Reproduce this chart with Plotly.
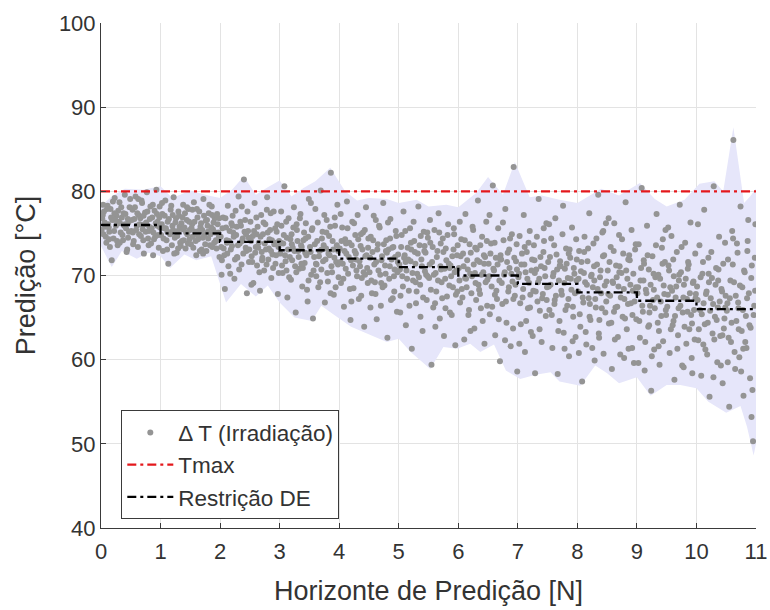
import plotly.graph_objects as go

# ---- data ----
horizon_steps = [0, 1, 2, 3, 4, 5, 6, 7, 8, 9, 10, 11]
restricao_de = [76, 75, 74, 73, 72, 71, 70, 69, 68, 67, 66, 66]
tmax_x = [0, 11]
tmax_y = [80, 80]

env_upper = [(0,78.3),(0.2,79.5),(0.4,80.3),(0.7,80.2),(1.0,80.6),(1.2,79.2),(1.5,80.1),(1.8,79.5),(2.0,79.2),(2.2,80.2),(2.4,81.8),(2.6,79.6),(2.8,80.5),(3.0,81.3),(3.2,79.4),(3.4,80.4),(3.6,81.2),(3.85,82.8),(4.1,80.0),(4.3,78.9),(4.5,79.2),(4.8,79.1),(5.0,78.6),(5.3,79.0),(5.5,78.2),(5.8,78.4),(6.0,78.1),(6.3,79.8),(6.5,81.7),(6.75,79.6),(6.95,83.5),(7.2,79.3),(7.4,79.5),(7.7,79.0),(8.0,78.6),(8.4,80.3),(8.7,79.5),(9.05,81.0),(9.3,79.1),(9.5,78.2),(9.8,79.0),(10.05,80.9),(10.3,81.2),(10.45,80.0),(10.62,87.6),(10.8,78.6),(10.9,79.4),(11,80.3)]
env_lower = [(0,73.5),(0.18,71.0),(0.35,72.9),(0.6,72.0),(0.8,72.7),(1.0,72.3),(1.16,70.9),(1.4,72.5),(1.6,71.8),(1.85,72.3),(2.1,66.8),(2.35,69.0),(2.6,67.5),(2.8,68.8),(3.0,66.8),(3.25,65.0),(3.54,64.6),(3.7,66.4),(3.9,65.4),(4.2,63.9),(4.45,63.2),(4.8,62.1),(5.0,62.5),(5.2,60.9),(5.53,58.9),(5.75,61.5),(5.98,61.3),(6.2,61.9),(6.37,60.9),(6.6,61.8),(6.8,58.7),(7.04,57.7),(7.3,58.2),(7.55,58.5),(7.7,57.4),(8.05,56.9),(8.3,59.3),(8.5,58.4),(8.7,57.2),(9.0,57.9),(9.23,55.7),(9.5,57.0),(9.73,57.0),(10.0,56.6),(10.2,55.0),(10.5,53.7),(10.74,54.5),(10.85,52.0),(10.96,48.6),(11,50.0)]

cloud_0_2 = [(0.02,76.8),(0.04,74.9),(0.05,77.6),(0.07,75.8),(0.09,73.9),(0.11,78.3),(0.12,76.1),(0.14,75.2),(0.16,77.9),(0.18,71.8),(0.19,76.6),(0.21,74.4),(0.23,79.2),(0.25,75.9),(0.26,77.1),(0.28,73.6),(0.3,76.4),(0.31,78.7),(0.33,75.1),(0.35,76.9),(0.37,74.2),(0.38,77.4),(0.4,79.6),(0.42,75.6),(0.44,73.1),(0.46,76.3),(0.48,78.1),
(0.51,75.3),(0.53,77.8),(0.55,74.1),(0.56,76.7),(0.58,79.4),(0.6,75.9),(0.62,73.4),(0.63,77.2),(0.65,76.1),(0.67,74.7),(0.69,78.6),(0.7,75.5),(0.72,72.6),(0.74,77.5),(0.76,76.3),(0.77,79.9),(0.79,74.4),(0.81,75.8),(0.83,78.2),(0.84,73.8),(0.86,76.9),(0.88,75.1),(0.9,77.7),(0.91,74.6),(0.93,80.2),(0.95,76.4),(0.97,73.3),(0.99,75.7),
(1.01,74.8),(1.03,77.3),(1.04,72.9),(1.06,75.6),(1.08,78.9),(1.1,74.2),(1.12,76.4),(1.13,71.4),(1.15,75.1),(1.17,77.8),(1.19,73.6),(1.2,75.9),(1.22,79.3),(1.24,74.5),(1.26,76.8),(1.27,72.7),(1.29,75.3),(1.31,77.1),(1.33,73.9),(1.35,76.2),(1.36,74.1),(1.38,78.4),(1.4,75.7),(1.42,73.2),(1.44,76.6),(1.45,74.9),(1.47,77.9),(1.49,75.4),
(1.51,73.7),(1.53,76.1),(1.54,74.6),(1.56,78.7),(1.58,75.2),(1.6,72.4),(1.62,76.9),(1.63,74.3),(1.65,77.6),(1.67,75.8),(1.69,73.1),(1.7,75.4),(1.72,79.1),(1.74,74.8),(1.76,76.5),(1.77,72.9),(1.79,75.9),(1.81,77.4),(1.83,73.6),(1.84,74.9),(1.86,78.2),(1.88,75.5),(1.9,73.9),(1.91,76.8),(1.93,74.2),(1.95,77.3),(1.97,75.1),(1.99,72.2)]

cloud_2_4 = [(2.01,74.6),(2.03,71.8),(2.05,76.9),(2.06,73.2),(2.08,68.4),(2.1,75.7),(2.12,72.6),(2.13,78.3),(2.15,74.1),(2.17,70.2),(2.19,76.2),(2.2,73.5),(2.22,75.1),(2.24,69.6),(2.26,77.7),(2.27,74.8),(2.29,72.1),(2.31,79.4),(2.33,73.8),(2.35,75.9),(2.36,71.3),(2.38,74.4),(2.4,81.4),(2.42,76.6),(2.44,72.9),(2.45,67.9),(2.47,75.3),(2.49,73.1),
(2.51,76.4),(2.53,72.3),(2.55,74.7),(2.56,69.1),(2.58,78.6),(2.6,73.4),(2.62,71.2),(2.63,75.8),(2.65,73.9),(2.67,68.2),(2.69,77.2),(2.7,72.8),(2.72,74.9),(2.74,70.6),(2.76,76.1),(2.77,73.1),(2.79,79.3),(2.81,71.9),(2.83,74.3),(2.84,75.4),(2.86,69.7),(2.88,72.5),(2.9,77.6),(2.91,73.7),(2.93,71.4),(2.95,75.2),(2.97,67.8),(2.99,74.1),
(3.01,72.6),(3.03,75.9),(3.05,70.3),(3.06,73.8),(3.08,80.6),(3.1,71.7),(3.12,74.5),(3.13,67.4),(3.15,76.8),(3.17,72.2),(3.19,69.5),(3.2,74.9),(3.22,73.3),(3.24,78.1),(3.26,71.1),(3.27,65.6),(3.29,75.4),(3.31,72.9),(3.33,70.8),(3.35,77.3),(3.36,73.6),(3.38,68.7),(3.4,74.2),(3.42,71.5),(3.44,76.2),(3.45,72.4),(3.47,66.9),(3.49,79.1),
(3.51,73.4),(3.53,70.1),(3.55,75.6),(3.56,64.9),(3.58,72.2),(3.6,77.9),(3.62,71.3),(3.63,74.1),(3.65,68.6),(3.67,72.9),(3.69,80.1),(3.7,70.7),(3.72,75.2),(3.74,73.6),(3.76,66.8),(3.77,71.9),(3.79,76.6),(3.81,69.3),(3.83,74.7),(3.84,72.4),(3.86,82.2),(3.88,70.4),(3.9,73.1),(3.91,67.7),(3.93,75.9),(3.95,71.6),(3.97,78.4),(3.99,69.8)]

cloud_4_6 = [(4.01,73.2),(4.03,69.1),(4.05,75.7),(4.06,71.4),(4.08,66.3),(4.1,74.3),(4.12,72.6),(4.13,78.8),(4.15,70.2),(4.17,73.9),(4.19,64.7),(4.2,71.8),(4.22,76.4),(4.24,68.5),(4.26,72.9),(4.27,74.8),(4.29,70.6),(4.31,77.2),(4.33,67.2),(4.35,71.1),(4.36,73.5),(4.38,69.7),(4.4,75.1),(4.42,63.9),(4.44,72.3),(4.45,78.1),(4.47,70.9),(4.49,74.4),
(4.51,70.4),(4.53,74.6),(4.55,67.9),(4.56,72.8),(4.58,77.1),(4.6,69.2),(4.62,71.6),(4.63,64.8),(4.65,73.7),(4.67,75.9),(4.69,70.1),(4.7,66.4),(4.72,72.3),(4.74,78.6),(4.76,68.8),(4.77,71.2),(4.79,74.2),(4.81,62.6),(4.83,73.1),(4.84,69.6),(4.86,76.7),(4.88,71.9),(4.9,67.3),(4.91,73.4),(4.93,70.7),(4.95,75.3),(4.97,65.7),(4.99,72.5),
(5.01,71.3),(5.03,67.6),(5.05,74.8),(5.06,69.9),(5.08,77.6),(5.1,72.4),(5.12,64.1),(5.13,70.6),(5.15,73.3),(5.17,68.2),(5.19,75.6),(5.2,71.7),(5.22,61.3),(5.24,69.4),(5.26,74.1),(5.27,72.8),(5.29,66.7),(5.31,70.2),(5.33,78.2),(5.35,73.6),(5.36,68.9),(5.38,71.9),(5.4,63.4),(5.42,75.2),(5.44,70.5),(5.45,72.7),(5.47,67.1),(5.49,74.5),
(5.51,69.7),(5.53,73.9),(5.55,59.4),(5.56,71.6),(5.58,66.2),(5.6,75.4),(5.62,70.3),(5.63,68.1),(5.65,72.9),(5.67,77.4),(5.69,64.9),(5.7,71.1),(5.72,69.2),(5.74,74.4),(5.76,62.8),(5.77,70.8),(5.79,73.2),(5.81,67.5),(5.83,76.1),(5.84,71.4),(5.86,65.6),(5.88,69.9),(5.9,72.3),(5.91,68.6),(5.93,74.9),(5.95,61.7),(5.97,70.6),(5.99,73.6)]

cloud_6_8 = [(6.01,70.9),(6.03,66.8),(6.05,74.3),(6.06,68.4),(6.08,72.6),(6.1,62.4),(6.12,77.3),(6.13,69.6),(6.15,71.8),(6.17,65.3),(6.19,73.7),(6.2,70.2),(6.22,67.9),(6.24,75.8),(6.26,71.3),(6.27,63.7),(6.29,69.1),(6.31,73.1),(6.33,78.9),(6.35,68.3),(6.36,71.6),(6.38,66.1),(6.4,74.6),(6.42,70.4),(6.44,61.9),(6.45,72.2),(6.47,76.4),(6.49,69.5),
(6.51,71.4),(6.53,65.4),(6.55,73.8),(6.56,68.7),(6.58,80.7),(6.6,70.6),(6.62,62.9),(6.63,72.1),(6.65,67.2),(6.67,75.6),(6.69,69.4),(6.7,59.8),(6.72,71.9),(6.74,66.6),(6.76,74.2),(6.77,70.1),(6.79,77.9),(6.81,64.4),(6.83,72.7),(6.84,68.1),(6.86,70.9),(6.88,61.6),(6.9,74.9),(6.91,69.3),(6.93,82.9),(6.95,67.6),(6.97,71.7),(6.99,58.6),
(7.01,69.8),(7.03,74.7),(7.05,64.2),(7.06,71.3),(7.08,67.4),(7.1,77.2),(7.12,60.9),(7.13,70.4),(7.15,72.8),(7.17,66.1),(7.19,69.1),(7.2,75.3),(7.22,63.3),(7.24,71.9),(7.26,68.2),(7.27,73.6),(7.29,58.4),(7.31,70.7),(7.33,66.9),(7.35,79.1),(7.36,69.6),(7.38,72.2),(7.4,62.1),(7.42,67.8),(7.44,74.1),(7.45,70.9),(7.47,65.2),(7.49,68.6),
(7.51,71.6),(7.53,65.9),(7.55,68.9),(7.56,74.4),(7.58,61.4),(7.6,70.3),(7.62,67.1),(7.63,76.8),(7.65,72.5),(7.67,58.3),(7.69,69.4),(7.7,64.6),(7.72,71.1),(7.74,67.7),(7.76,78.3),(7.77,63.2),(7.79,70.8),(7.81,73.2),(7.83,66.4),(7.84,69.7),(7.86,60.4),(7.88,72.1),(7.9,68.3),(7.91,75.7),(7.93,65.1),(7.95,70.2),(7.97,62.7),(7.99,71.9)]

cloud_8_10 = [(8.01,68.1),(8.03,72.9),(8.05,63.9),(8.06,70.5),(8.08,57.4),(8.1,66.8),(8.12,74.6),(8.13,69.2),(8.15,61.8),(8.17,71.7),(8.19,67.3),(8.2,77.4),(8.22,64.7),(8.24,70.1),(8.26,68.6),(8.27,73.8),(8.29,59.9),(8.31,66.2),(8.33,71.3),(8.35,79.6),(8.36,63.1),(8.38,69.8),(8.4,67.9),(8.42,75.1),(8.44,60.7),(8.45,72.4),(8.47,65.6),(8.49,69.3),
(8.51,70.6),(8.53,64.3),(8.55,67.6),(8.56,73.4),(8.58,58.9),(8.6,69.1),(8.62,76.2),(8.63,62.4),(8.65,71.2),(8.67,66.3),(8.69,68.7),(8.7,74.8),(8.72,60.6),(8.74,70.3),(8.76,65.1),(8.77,72.6),(8.79,67.2),(8.81,78.7),(8.83,63.6),(8.84,69.6),(8.86,61.3),(8.88,71.8),(8.9,66.7),(8.91,75.4),(8.93,68.2),(8.95,59.6),(8.97,73.1),(8.99,64.8),
(9.01,67.9),(9.03,73.7),(9.05,62.6),(9.06,69.4),(9.08,80.4),(9.1,65.7),(9.12,71.4),(9.13,58.7),(9.15,68.3),(9.17,75.9),(9.19,63.9),(9.2,70.7),(9.22,66.4),(9.24,56.3),(9.26,72.3),(9.27,67.1),(9.29,61.2),(9.31,69.8),(9.33,77.3),(9.35,64.4),(9.36,70.1),(9.38,59.4),(9.4,66.9),(9.42,73.3),(9.44,62.2),(9.45,68.8),(9.47,71.6),(9.49,65.3),
(9.51,66.3),(9.53,71.2),(9.55,60.8),(9.56,68.6),(9.58,74.7),(9.6,64.1),(9.62,69.9),(9.63,57.6),(9.65,67.4),(9.67,72.8),(9.69,62.9),(9.7,66.1),(9.72,78.4),(9.74,70.4),(9.76,59.3),(9.77,65.6),(9.79,68.9),(9.81,73.9),(9.83,61.9),(9.84,67.2),(9.86,71.6),(9.88,63.6),(9.9,76.3),(9.91,65.3),(9.93,58.4),(9.95,69.3),(9.97,62.4),(9.99,67.8)]

cloud_10_11 = [(10.01,68.7),(10.03,62.3),(10.05,73.6),(10.06,65.9),(10.08,58.1),(10.1,70.2),(10.12,66.7),(10.13,77.8),(10.15,61.2),(10.17,68.1),(10.19,64.4),(10.2,72.1),(10.22,55.6),(10.24,67.3),(10.26,69.7),(10.27,63.1),(10.29,80.6),(10.31,65.1),(10.33,70.9),(10.35,59.7),(10.36,66.2),(10.38,74.6),(10.4,62.8),(10.42,68.4),(10.44,57.2),(10.45,71.4),(10.47,64.9),(10.49,67.6),
(10.51,65.8),(10.53,71.9),(10.55,54.4),(10.56,67.3),(10.58,62.1),(10.6,75.3),(10.62,86.1),(10.63,69.2),(10.65,58.9),(10.67,64.6),(10.69,72.7),(10.7,66.8),(10.72,60.3),(10.74,78.2),(10.76,63.4),(10.77,68.6),(10.79,55.7),(10.81,70.4),(10.83,65.2),(10.84,61.4),(10.86,74.1),(10.88,67.9),(10.9,57.8),(10.91,63.8),(10.93,71.2),(10.95,50.3),(10.97,66.4),(10.99,76.1)]

core_0_2 = [(0.01,75.4),(0.03,77.2),(0.06,76.3),(0.08,74.6),(0.1,77.9),(0.13,75.7),(0.15,73.4),(0.17,76.9),(0.2,78.8),(0.22,75.3),(0.24,76.6),(0.27,74.1),(0.29,77.7),(0.32,76.2),(0.34,78.1),(0.36,74.8),(0.39,75.9),(0.41,77.3),(0.43,72.8),(0.45,76.7),(0.47,75.2),(0.49,79.1),(0.035,78.4),(0.135,74.3),(0.225,77.4),(0.315,73.9),(0.405,76.1),(0.455,74.5),
(0.52,76.6),(0.54,73.7),(0.57,78.1),(0.59,75.4),(0.61,77.4),(0.64,74.9),(0.66,76.8),(0.68,78.9),(0.71,74.2),(0.73,76.1),(0.75,75.2),(0.78,77.6),(0.8,73.6),(0.82,76.7),(0.85,75.6),(0.87,78.4),(0.89,74.3),(0.92,76.2),(0.94,77.3),(0.96,74.8),(0.98,76.9),(0.535,75.1),(0.625,79.1),(0.715,77.1),(0.805,75.3),(0.875,72.4),(0.945,75.9),(0.985,78.2),
(1.02,76.1),(1.05,74.4),(1.07,77.1),(1.09,75.6),(1.11,73.1),(1.14,76.7),(1.16,74.9),(1.18,78.3),(1.21,75.4),(1.23,72.6),(1.25,76.3),(1.28,74.7),(1.3,77.6),(1.32,75.8),(1.34,73.5),(1.37,76.9),(1.39,74.2),(1.41,77.4),(1.43,75.1),(1.46,73.8),(1.48,76.4),(1.025,78.6),(1.115,75.2),(1.205,77.2),(1.295,73.2),(1.375,75.5),(1.445,78.1),(1.485,74.3),
(1.52,75.6),(1.55,73.3),(1.57,76.4),(1.59,74.1),(1.61,77.9),(1.64,75.3),(1.66,72.9),(1.68,76.2),(1.71,74.5),(1.73,77.1),(1.75,73.7),(1.78,76.6),(1.8,74.4),(1.82,78.4),(1.85,75.7),(1.87,73.4),(1.89,76.3),(1.92,75.1),(1.94,73.2),(1.96,76.1),(1.98,74.6),(1.535,77.8),(1.625,74.8),(1.715,72.6),(1.795,75.2),(1.865,77.2),(1.935,74.1),(1.985,76.8)]

core_2_4 = [(2.02,73.4),(2.04,75.6),(2.07,72.4),(2.09,76.8),(2.11,74.2),(2.14,71.1),(2.16,75.3),(2.18,73.1),(2.21,77.1),(2.23,74.6),(2.25,71.9),(2.28,75.8),(2.3,73.6),(2.32,70.7),(2.34,76.4),(2.37,74.1),(2.39,72.6),(2.41,75.2),(2.43,73.3),(2.46,77.6),(2.48,74.5),(2.025,70.1),(2.115,73.9),(2.205,75.9),(2.285,72.2),(2.365,78.2),(2.435,74.9),(2.485,71.6),
(2.52,74.1),(2.54,71.6),(2.57,75.3),(2.59,72.7),(2.61,76.9),(2.64,73.3),(2.66,70.4),(2.68,74.6),(2.71,72.1),(2.73,76.3),(2.75,73.8),(2.78,71.3),(2.8,75.1),(2.82,73.2),(2.85,77.4),(2.87,74.2),(2.89,70.9),(2.92,73.9),(2.94,72.4),(2.96,76.1),(2.98,73.4),(2.525,68.9),(2.615,74.9),(2.705,71.8),(2.785,77.8),(2.855,72.9),(2.925,75.6),(2.985,70.3),
(3.02,73.9),(3.04,71.2),(3.07,74.8),(3.09,72.4),(3.11,76.4),(3.14,73.1),(3.16,69.8),(3.18,74.3),(3.21,71.8),(3.23,75.7),(3.25,72.9),(3.28,70.4),(3.3,74.1),(3.32,72.2),(3.34,76.8),(3.37,73.4),(3.39,70.9),(3.41,75.1),(3.43,72.7),(3.46,68.3),(3.48,74.6),(3.025,77.6),(3.115,70.6),(3.205,73.7),(3.285,76.1),(3.365,71.4),(3.435,74.4),(3.485,69.4),
(3.52,72.8),(3.54,75.4),(3.57,70.6),(3.59,73.7),(3.61,71.4),(3.64,76.3),(3.66,72.3),(3.68,69.2),(3.71,74.4),(3.73,71.7),(3.75,77.2),(3.78,73.2),(3.8,70.3),(3.82,72.6),(3.85,75.8),(3.87,71.1),(3.89,74.1),(3.92,72.1),(3.94,68.6),(3.96,73.6),(3.98,71.3),(3.525,78.6),(3.615,69.9),(3.705,73.1),(3.785,75.1),(3.855,67.9),(3.925,76.9),(3.985,72.9)]

core_4_6 = [(4.02,71.6),(4.04,74.1),(4.07,69.6),(4.09,72.9),(4.11,70.8),(4.14,75.6),(4.16,72.2),(4.18,68.4),(4.21,73.6),(4.23,71.2),(4.25,76.2),(4.28,72.6),(4.3,69.9),(4.32,74.3),(4.34,71.7),(4.37,67.6),(4.39,73.1),(4.41,70.4),(4.43,75.4),(4.46,72.4),(4.48,69.1),(4.025,77.3),(4.115,73.8),(4.205,66.9),(4.285,71.9),(4.365,74.9),(4.435,70.1),(4.485,73.3),
(4.52,72.1),(4.54,69.4),(4.57,74.2),(4.59,71.3),(4.61,67.8),(4.64,73.1),(4.66,70.6),(4.68,75.7),(4.71,71.8),(4.73,68.6),(4.75,73.7),(4.78,70.2),(4.8,72.7),(4.82,76.3),(4.85,71.1),(4.87,67.1),(4.89,73.3),(4.92,69.9),(4.94,72.2),(4.96,74.7),(4.98,70.4),(4.525,66.2),(4.615,76.6),(4.705,69.1),(4.785,72.9),(4.855,74.4),(4.925,68.1),(4.985,71.6),
(5.02,70.7),(5.04,73.4),(5.07,68.7),(5.09,72.1),(5.11,75.3),(5.14,69.6),(5.16,71.9),(5.18,66.4),(5.21,73.1),(5.23,70.3),(5.25,76.4),(5.28,71.4),(5.3,68.1),(5.32,72.6),(5.34,69.8),(5.37,74.7),(5.39,71.1),(5.41,67.4),(5.43,72.9),(5.46,70.1),(5.48,75.1),(5.025,65.6),(5.115,71.6),(5.205,73.9),(5.285,69.2),(5.365,65.1),(5.435,73.5),(5.485,69.9),
(5.52,71.3),(5.54,68.3),(5.57,73.4),(5.59,70.1),(5.61,66.7),(5.64,72.2),(5.66,69.4),(5.68,75.1),(5.71,70.7),(5.73,67.3),(5.75,72.8),(5.78,69.6),(5.8,71.8),(5.82,74.8),(5.85,68.8),(5.87,71.2),(5.89,65.3),(5.92,73.1),(5.94,70.4),(5.96,67.7),(5.98,72.4),(5.525,76.6),(5.615,63.9),(5.705,73.8),(5.785,66.1),(5.855,70.9),(5.925,75.6),(5.985,68.1)]

core_6_8 = [(6.02,69.4),(6.04,72.3),(6.07,67.4),(6.09,71.1),(6.11,74.2),(6.14,68.6),(6.16,70.7),(6.18,65.9),(6.21,72.7),(6.23,69.9),(6.25,75.4),(6.28,70.3),(6.3,67.1),(6.32,71.8),(6.34,68.9),(6.37,73.6),(6.39,70.1),(6.41,64.6),(6.43,72.4),(6.46,69.2),(6.48,74.1),(6.025,76.4),(6.115,69.7),(6.205,63.4),(6.285,73.3),(6.365,67.8),(6.435,71.4),(6.485,66.4),
(6.52,69.9),(6.54,72.6),(6.57,66.3),(6.59,70.8),(6.61,73.9),(6.64,68.2),(6.66,71.3),(6.68,64.8),(6.71,72.4),(6.73,69.1),(6.75,76.3),(6.78,70.4),(6.8,66.9),(6.82,71.6),(6.85,68.6),(6.87,74.4),(6.89,70.2),(6.92,63.7),(6.94,72.1),(6.96,68.9),(6.98,73.7),(6.525,77.2),(6.615,67.7),(6.705,71.9),(6.785,62.3),(6.855,73.1),(6.925,67.2),(6.985,70.7),
(7.02,70.2),(7.04,66.7),(7.07,72.6),(7.09,68.4),(7.11,71.3),(7.14,64.6),(7.16,69.6),(7.18,73.9),(7.21,67.7),(7.23,70.6),(7.25,62.8),(7.28,71.8),(7.3,68.1),(7.32,74.6),(7.34,69.2),(7.37,65.8),(7.39,71.1),(7.41,67.3),(7.43,72.8),(7.46,69.9),(7.48,76.2),(7.025,61.9),(7.115,73.4),(7.205,66.2),(7.285,70.3),(7.365,63.6),(7.435,75.6),(7.485,67.1),
(7.52,68.7),(7.54,72.2),(7.57,65.3),(7.59,69.9),(7.61,73.6),(7.64,67.6),(7.66,70.7),(7.68,63.4),(7.71,71.7),(7.73,68.2),(7.75,74.9),(7.78,69.1),(7.8,65.9),(7.82,71.4),(7.85,67.2),(7.87,73.1),(7.89,69.6),(7.92,62.2),(7.94,70.9),(7.96,67.9),(7.98,74.3),(7.525,76.1),(7.615,66.6),(7.705,71.2),(7.785,61.3),(7.855,72.6),(7.925,66.3),(7.985,69.4)]

core_8_10 = [(8.02,69.6),(8.04,65.4),(8.07,71.6),(8.09,67.4),(8.11,70.3),(8.14,63.3),(8.16,68.9),(8.18,73.2),(8.21,66.6),(8.23,69.9),(8.25,61.4),(8.28,71.1),(8.3,67.2),(8.32,74.4),(8.34,68.4),(8.37,64.7),(8.39,70.6),(8.41,66.1),(8.43,72.3),(8.46,68.8),(8.48,76.2),(8.025,60.8),(8.115,72.8),(8.205,65.1),(8.285,69.4),(8.365,62.6),(8.435,75.3),(8.485,66.9),
(8.52,67.8),(8.54,71.6),(8.57,64.4),(8.59,69.3),(8.61,72.9),(8.64,66.2),(8.66,69.8),(8.68,62.7),(8.71,71.1),(8.73,67.4),(8.75,74.3),(8.78,68.4),(8.8,64.9),(8.82,70.6),(8.85,66.6),(8.87,72.4),(8.89,68.9),(8.92,61.4),(8.94,70.2),(8.96,66.9),(8.98,73.7),(8.525,76.8),(8.615,65.7),(8.705,70.4),(8.785,60.2),(8.855,71.9),(8.925,65.3),(8.985,68.6),
(9.02,68.6),(9.04,64.6),(9.07,70.9),(9.09,66.4),(9.11,69.4),(9.14,62.1),(9.16,67.9),(9.18,72.4),(9.21,65.6),(9.23,68.9),(9.25,60.4),(9.28,70.2),(9.3,66.1),(9.32,73.6),(9.34,67.4),(9.37,63.4),(9.39,69.6),(9.41,65.2),(9.43,71.4),(9.46,67.8),(9.48,75.4),(9.025,59.6),(9.115,71.8),(9.205,64.1),(9.285,68.3),(9.365,61.6),(9.435,74.3),(9.485,65.9),
(9.52,67.7),(9.54,70.6),(9.57,63.6),(9.59,68.2),(9.61,71.9),(9.64,65.2),(9.66,68.7),(9.68,61.3),(9.71,70.1),(9.73,66.4),(9.75,73.4),(9.78,67.4),(9.8,63.9),(9.82,69.6),(9.85,65.7),(9.87,71.3),(9.89,67.9),(9.92,60.2),(9.94,69.1),(9.96,65.9),(9.98,72.6),(9.525,75.7),(9.615,64.6),(9.705,69.4),(9.785,59.1),(9.855,70.8),(9.925,64.3),(9.985,67.3)]

core_10_11 = [(10.02,67.1),(10.04,63.6),(10.07,69.8),(10.09,65.4),(10.11,71.6),(10.14,64.2),(10.16,67.8),(10.18,60.6),(10.21,69.2),(10.23,65.8),(10.25,72.8),(10.28,66.6),(10.3,62.4),(10.32,68.9),(10.34,64.7),(10.37,70.7),(10.39,66.9),(10.41,59.3),(10.43,68.1),(10.46,63.7),(10.48,73.9),(10.025,76.1),(10.115,61.8),(10.205,70.2),(10.285,57.9),(10.365,69.4),(10.435,62.9),(10.485,66.2),
(10.52,66.7),(10.54,62.6),(10.57,69.4),(10.59,64.4),(10.61,71.3),(10.64,60.9),(10.66,67.6),(10.68,73.8),(10.71,63.6),(10.73,68.8),(10.75,58.6),(10.78,65.9),(10.8,70.6),(10.82,62.1),(10.85,67.3),(10.87,76.6),(10.89,64.1),(10.92,69.7),(10.94,56.4),(10.96,65.3),(10.98,72.1),(10.525,59.7),(10.615,74.4),(10.705,66.1),(10.785,61.3),(10.855,72.9),(10.925,53.2),(10.985,68.2)]

x_ticks = list(range(0, 12))
y_ticks = [40, 50, 60, 70, 80, 90, 100]

# ---- build ----
cloud = (cloud_0_2 + cloud_2_4 + cloud_4_6 + cloud_6_8 + cloud_8_10 + cloud_10_11 +
         core_0_2 + core_2_4 + core_4_6 + core_6_8 + core_8_10 + core_10_11)
cx = [p[0] for p in cloud]
cy = [p[1] for p in cloud]

poly_x = [p[0] for p in env_upper] + [p[0] for p in reversed(env_lower)]
poly_y = [p[1] for p in env_upper] + [p[1] for p in reversed(env_lower)]

FONT = "Liberation Sans, Arial, Helvetica, sans-serif"
TXT = "#333333"
AX = "#3a3a3a"

fig = go.Figure()
fig.add_trace(go.Scatter(x=poly_x, y=poly_y, fill="toself", mode="lines",
                         fillcolor="rgb(230,230,250)", line=dict(width=0),
                         showlegend=False, hoverinfo="skip"))
fig.add_trace(go.Scatter(x=cx, y=cy, mode="markers", name="Δ T (Irradiação)",
                         marker=dict(color="#949494", size=6, line=dict(width=0))))
fig.add_trace(go.Scatter(x=tmax_x, y=tmax_y, mode="lines", name="Tmax",
                         line=dict(color="#e4181c", width=2.3, dash="9px,4px,3px,4px")))
fig.add_trace(go.Scatter(x=horizon_steps, y=restricao_de, mode="lines", name="Restrição DE",
                         line=dict(color="black", width=2.3, dash="9px,4px,3px,4px", shape="hv")))

axis_common = dict(showgrid=True, gridcolor="#e3e3e3", gridwidth=1, zeroline=False,
                   showline=True, linecolor=AX, linewidth=1,
                   ticks="inside", ticklen=5, tickcolor=AX, automargin=False,
                   tickfont=dict(family=FONT, size=22, color=TXT))

fig.update_layout(
    width=770, height=610,
    margin=dict(l=101, r=14, t=23, b=82, autoexpand=False),
    paper_bgcolor="white", plot_bgcolor="white",
    font=dict(family=FONT, color=TXT),
    xaxis=dict(range=[0, 11], tickvals=x_ticks, ticklabelstandoff=4,
               title=dict(text="Horizonte de Predição [N]", font=dict(size=27, color=TXT), standoff=17),
               **axis_common),
    yaxis=dict(range=[40, 100], tickvals=y_ticks,
               title=dict(text="Predição [°C]", font=dict(size=27, color=TXT), standoff=15),
               **axis_common),
    legend=dict(x=0.031, y=0.233, xanchor="left", yanchor="top",
                bgcolor="white", bordercolor=AX, borderwidth=1,
                font=dict(family=FONT, size=22.5, color=TXT),
                itemsizing="trace", itemwidth=46, tracegroupgap=0),
    showlegend=True,
)

fig.write_html("out.html", config={"displayModeBar": False},
               post_script="document.body.style.margin='0';document.body.style.overflow='hidden';")
